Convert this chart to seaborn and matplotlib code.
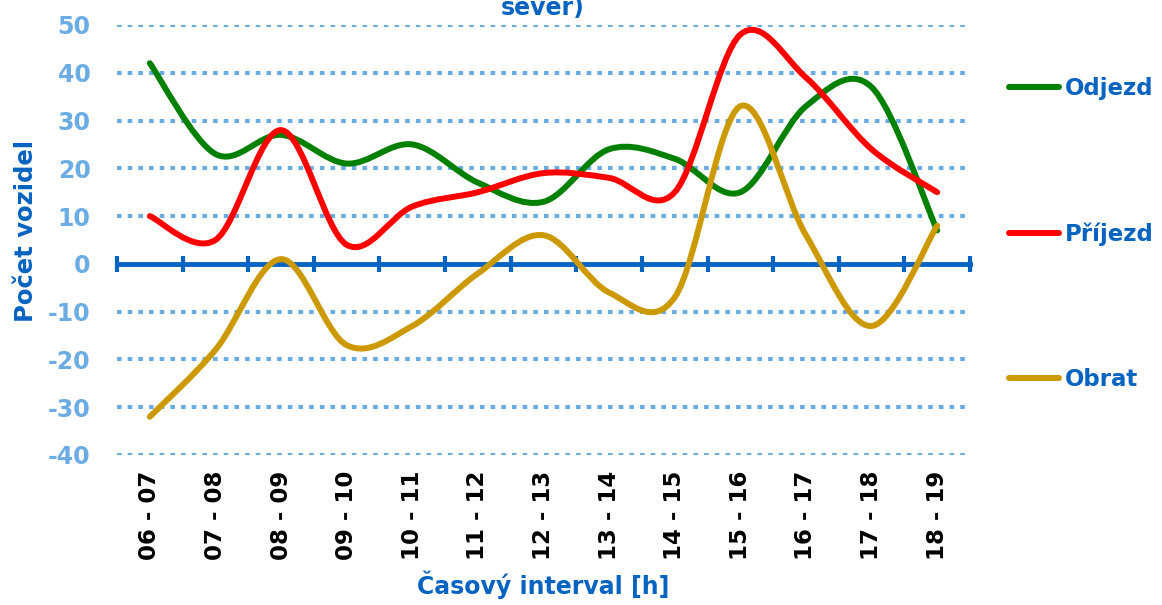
import pandas as pd
import matplotlib
matplotlib.use("Agg")
import matplotlib.pyplot as plt
from matplotlib.path import Path
from matplotlib.patches import PathPatch
from matplotlib.lines import Line2D
import seaborn as sns

intervals = ["06 - 07", "07 - 08", "08 - 09", "09 - 10", "10 - 11", "11 - 12", "12 - 13",
             "13 - 14", "14 - 15", "15 - 16", "16 - 17", "17 - 18", "18 - 19"]
odjezd = [42, 23, 27, 21, 25, 17, 13, 24, 22, 15, 33, 37, 7]
prijezd = [10, 5, 28, 4, 12, 15, 19, 18, 15, 48, 39, 24, 15]
obrat = [-32, -18, 1, -17, -13, -2, 6, -6, -7, 33, 6, -13, 8]
series_names = ["Odjezd", "Příjezd", "Obrat"]
series_colors = ["#008000", "#FF0000", "#CC9900"]
y_ticks = [50, 40, 30, 20, 10, 0, -10, -20, -30, -40]

BLUE = "#0563C1"
LIGHT = "#6CACE4"

df = pd.DataFrame({
    "interval": intervals * 3,
    "series": [n for n in series_names for _ in intervals],
    "value": odjezd + prijezd + obrat,
})

sns.set_theme(style="white")
plt.rcParams["font.family"] = ["DejaVu Sans"]

fig = plt.figure(figsize=(11.62, 6.05), dpi=100)
ax = fig.add_axes([117 / 1162, 150 / 605, 853 / 1162, 430 / 605])

sns.lineplot(data=df, x="interval", y="value", hue="series", hue_order=series_names,
             palette=series_colors, errorbar=None, legend=False, ax=ax)


def smooth_path(xs, ys, k=1 / 6):
    # excel-like smoothed line: catmull-rom turned into cubic beziers
    pts = list(zip(xs, ys))
    verts = [pts[0]]
    codes = [Path.MOVETO]
    for i in range(len(pts) - 1):
        p0 = pts[max(i - 1, 0)]
        p1 = pts[i]
        p2 = pts[i + 1]
        p3 = pts[min(i + 2, len(pts) - 1)]
        c1 = (p1[0] + (p2[0] - p0[0]) * k, p1[1] + (p2[1] - p0[1]) * k)
        c2 = (p2[0] - (p3[0] - p1[0]) * k, p2[1] - (p3[1] - p1[1]) * k)
        verts += [c1, c2, p2]
        codes += [Path.CURVE4] * 3
    return Path(verts, codes)


# swap the straight seaborn lines for smoothed ones
for line, color in zip(list(ax.lines), series_colors):
    xs, ys = line.get_xdata(), line.get_ydata()
    patch = PathPatch(smooth_path(xs, ys), facecolor="none", edgecolor=color,
                      lw=4.3, capstyle="round", joinstyle="round", zorder=5)
    ax.add_patch(patch)
    line.set_visible(False)

ax.set_xlim(-0.5, len(intervals) - 0.5)
ax.set_ylim(-40, 50)
for v in y_ticks:
    if v != 0:
        ax.axhline(v, color=LIGHT, lw=2.9, linestyle=(0, (1.15, 1.5)), zorder=1)

for s in ax.spines.values():
    s.set_visible(False)

ax.set_yticks(y_ticks)
ax.set_yticklabels([str(v) for v in y_ticks])
ax.tick_params(axis="y", length=0, pad=19, labelsize=17, labelcolor=LIGHT)
for t in ax.get_yticklabels():
    t.set_fontweight("bold")

ax.set_xticks(range(len(intervals)))
ax.set_xticklabels(intervals, rotation=90, fontsize=16.5, fontweight="bold", color="black")
ax.tick_params(axis="x", length=0, pad=11)

# horizontal axis line at zero with category boundary ticks
sec = ax.secondary_xaxis(40 / 90)
sec.spines["bottom"].set_color(BLUE)
sec.spines["bottom"].set_linewidth(3.5)
sec.set_xticks([i - 0.5 for i in range(len(intervals) + 1)])
sec.tick_params(axis="x", direction="inout", length=12, width=3, color=BLUE,
                labelbottom=False)

ax.set_xlabel("Časový interval [h]", fontsize=17, fontweight="bold", color=BLUE)
ax.xaxis.set_label_coords(0.5, -0.268)
ax.set_ylabel("Počet vozidel", fontsize=17.5, fontweight="bold", color=BLUE)
ax.yaxis.set_label_coords(-0.093, 0.52)

fig.text(543 / 1162, 1 - 15 / 605, "sever)", ha="center", va="baseline",
         fontsize=17, fontweight="bold", color=BLUE)

handles = [Line2D([], [], color=c, lw=4.3, solid_capstyle="round") for c in series_colors]
fig.legend(handles, series_names, loc="center left",
           bbox_to_anchor=(1009 / 1162, 1 - 234 / 605), frameon=False,
           prop={"weight": "bold", "size": 16.5}, labelcolor=BLUE,
           handlelength=2.2, handletextpad=0.25, labelspacing=5.35,
           borderpad=0, borderaxespad=0)

fig.savefig("out.png", dpi=100)
